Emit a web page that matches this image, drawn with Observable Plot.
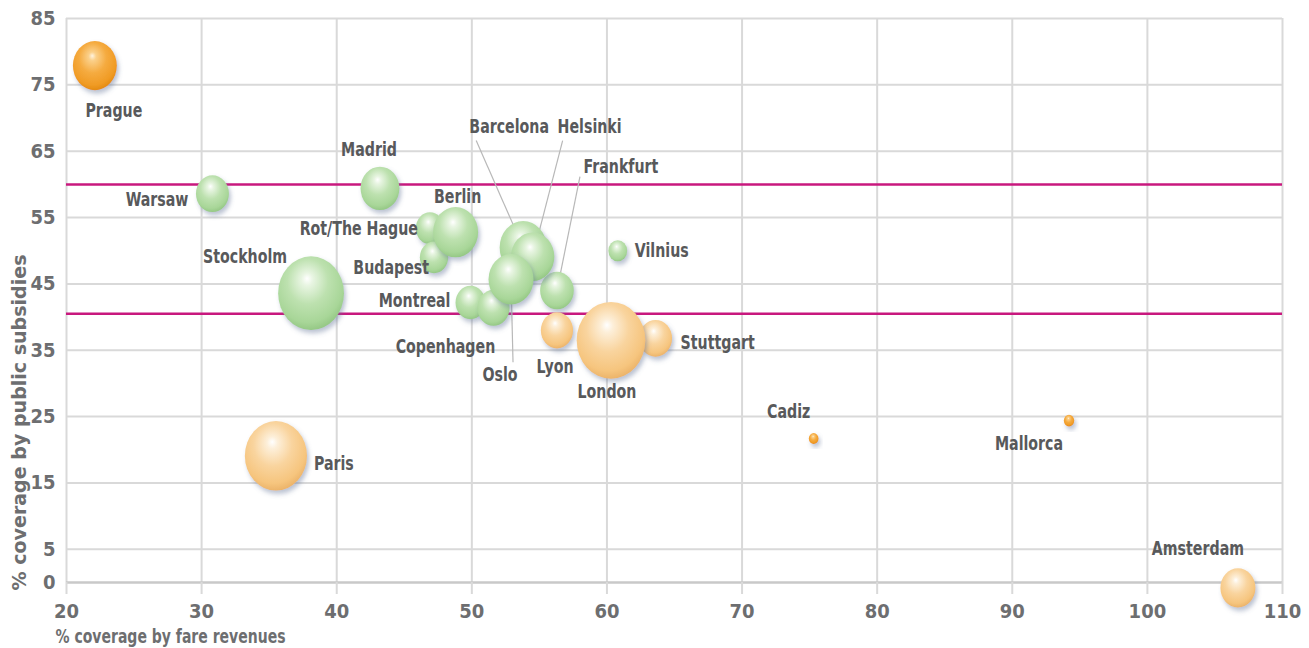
<!DOCTYPE html>
<html>
<head>
<meta charset="utf-8">
<script src="https://cdn.jsdelivr.net/npm/d3@7"></script>
<script src="https://cdn.jsdelivr.net/npm/@observablehq/plot@0.6"></script>
<style>
  html, body { margin: 0; padding: 0; background: #fff; }
  #chart svg { display: block; }
  #chart g[aria-label="dot"] circle { filter: url(#bubble-shadow); }
</style>
</head>
<body>
<!-- shared paint servers for the bubbles -->
<svg width="0" height="0" style="position:absolute">
  <defs>
    <radialGradient id="fill-green" cx="0.46" cy="0.38" r="0.62" fx="0.44" fy="0.3">
      <stop offset="0" stop-color="#ffffff"/>
      <stop offset="0.14" stop-color="#e8f5e2"/>
      <stop offset="0.5" stop-color="#bde1af"/>
      <stop offset="0.85" stop-color="#a8d698"/>
      <stop offset="1" stop-color="#95c885"/>
    </radialGradient>
    <radialGradient id="fill-pale" cx="0.46" cy="0.38" r="0.62" fx="0.44" fy="0.3">
      <stop offset="0" stop-color="#ffffff"/>
      <stop offset="0.14" stop-color="#fdefd9"/>
      <stop offset="0.5" stop-color="#f9d49e"/>
      <stop offset="0.85" stop-color="#f6c57e"/>
      <stop offset="1" stop-color="#ecb46a"/>
    </radialGradient>
    <radialGradient id="fill-orange" cx="0.46" cy="0.38" r="0.62" fx="0.44" fy="0.3">
      <stop offset="0" stop-color="#fff3df"/>
      <stop offset="0.14" stop-color="#fbd08a"/>
      <stop offset="0.5" stop-color="#f5ab40"/>
      <stop offset="0.85" stop-color="#f09b24"/>
      <stop offset="1" stop-color="#e48b12"/>
    </radialGradient>
    <filter id="bubble-shadow" x="-30%" y="-30%" width="170%" height="170%">
      <feDropShadow dx="2" dy="3" stdDeviation="2.2" flood-color="#66779a" flood-opacity="0.45"/>
    </filter>
  </defs>
</svg>
<div id="chart"></div>
<script>
// Public transport operators: share of operating cost covered by fares vs. by public subsidies
const cities = [
  "Prague", "Warsaw", "Madrid", "Stockholm", "Rot/The Hague", "Budapest", "Berlin",
  "Vilnius", "Frankfurt", "Barcelona", "Helsinki", "Montreal", "Copenhagen", "Oslo",
  "Lyon", "Stuttgart", "London", "Paris", "Cadiz", "Mallorca", "Amsterdam"
];
const fareCoverage = [
  22.1, 30.8, 43.2, 38.1, 46.9, 47.2, 48.8,
  60.8, 56.3, 53.8, 54.5, 49.9, 51.6, 52.9,
  56.3, 63.6, 60.3, 35.5, 75.3, 94.2, 106.7
];
const subsidyCoverage = [
  77.9, 58.6, 59.4, 43.6, 53.4, 49.0, 52.8,
  50.0, 44.0, 50.5, 49.1, 42.2, 41.4, 45.7,
  38.0, 36.8, 36.5, 19.1, 21.7, 24.4, -0.8
];
// relative network size (bubble area)
const networkSize = [
  41, 23, 32, 92, 17, 17, 43,
  7.5, 24, 47, 40, 19, 22, 43,
  22, 23, 100, 82, 2, 2.3, 26
];
const sizeGroup = [
  "III", "I", "I", "I", "I", "I", "I",
  "I", "I", "I", "I", "I", "I", "I",
  "II", "II", "II", "II", "III", "III", "II"
];
const xTicks = [20, 30, 40, 50, 60, 70, 80, 90, 100, 110];
const yTicks = [0, 5, 15, 25, 35, 45, 55, 65, 75, 85];
const bandLimits = [60, 40.5];
const xTitle = "% coverage by fare revenues";
const yTitle = "% coverage by public subsidies";

// label placement, pixel offsets from the bubble centre: [dx, dy, anchor]
const labelPlacement = {
  "Prague": [19, 45, "middle"],
  "Warsaw": [-24, 6, "end"],
  "Madrid": [-11, -38, "middle"],
  "Stockholm": [-66, -36, "middle"],
  "Rot/The Hague": [-12, 1, "end"],
  "Budapest": [-5, 11, "end"],
  "Berlin": [2, -35, "middle"],
  "Vilnius": [17, 0, "start"],
  "Frankfurt": [64, -124, "middle"],
  "Barcelona": [-14, -121, "middle"],
  "Helsinki": [57, -130, "middle"],
  "Montreal": [-20, -2, "end"],
  "Copenhagen": [-48, 39, "middle"],
  "Oslo": [-11, 96, "middle"],
  "Lyon": [-2, 37, "middle"],
  "Stuttgart": [25, 5, "start"],
  "London": [-4, 52, "middle"],
  "Paris": [38, 8, "start"],
  "Cadiz": [-25, -27, "middle"],
  "Mallorca": [-40, 23, "middle"],
  "Amsterdam": [-40, -39, "middle"]
};
// where the leader line leaves the label, pixel offsets from the bubble centre
const leaderStart = {
  "Frankfurt": [23, -114],
  "Barcelona": [-47, -107],
  "Helsinki": [30, -116],
  "Oslo": [2, 83]
};

const W = 1309, H = 648;
const M = {top: 18, right: 27, bottom: 66, left: 66};
const xDomain = [20, 110], yDomain = [0, 85];
const bubbleStretch = 1.12;   // bubbles are drawn slightly taller than wide
const labelCondense = 0.83;   // narrow the label face to a condensed width

const rows = cities.map((city, i) => ({
  city, fare: fareCoverage[i], subsidy: subsidyCoverage[i],
  size: networkSize[i], group: sizeGroup[i]
}));

const xs = Plot.scale({x: {domain: xDomain, range: [M.left, W - M.right]}});
const ys = Plot.scale({y: {domain: yDomain, range: [H - M.bottom, M.top]}});
const shift = (r, [dx, dy]) => ({
  x: xs.invert(xs.apply(r.fare) + dx),
  y: ys.invert(ys.apply(r.subsidy) + dy)
});

const labels = rows.map(r => {
  const p = labelPlacement[r.city];
  return {text: r.city, anchor: p[2], ...shift(r, p)};
});
const leaders = rows.filter(r => leaderStart[r.city]).map(r => {
  const s = shift(r, leaderStart[r.city]);
  return {x1: s.x, y1: s.y, x2: r.fare, y2: r.subsidy};
});

const font = '"Liberation Sans Narrow", "DejaVu Sans Condensed", "Arial Narrow", sans-serif';
const labelText = anchor => Plot.text(labels.filter(d => d.anchor === anchor), {
  x: "x", y: "y", text: "text", textAnchor: anchor, lineAnchor: "middle",
  fontSize: 19, fontWeight: "bold", fill: "#58595b"
});

const chart = Plot.plot({
  width: W, height: H,
  marginTop: M.top, marginRight: M.right, marginBottom: M.bottom, marginLeft: M.left,
  style: {fontFamily: font, fontWeight: "bold", background: "#fff", overflow: "visible"},
  x: {domain: xDomain},
  y: {domain: yDomain},
  r: {type: "sqrt", domain: [0, 100], range: [0, 34.3]},
  color: {type: "ordinal", domain: ["I", "II", "III"],
          range: ["url(#fill-green)", "url(#fill-pale)", "url(#fill-orange)"]},
  marks: [
    Plot.ruleX(xTicks, {stroke: "#d9d9d9", strokeWidth: 2}),
    Plot.ruleY(yTicks.filter(d => d !== 0), {stroke: "#d9d9d9", strokeWidth: 2}),
    Plot.ruleY([0], {stroke: "#c9c9c9", strokeWidth: 2.5}),
    Plot.axisX({ticks: xTicks, tickSize: 12, tickPadding: 9, label: null, fontSize: 20,
                fill: "#6d6e70", stroke: "#d9d9d9", strokeWidth: 2}),
    Plot.axisY({ticks: yTicks, tickSize: 0, tickPadding: 11, label: null, fontSize: 20,
                fill: "#6d6e70"}),
    Plot.ruleY(bandLimits, {stroke: "#c8187e", strokeWidth: 2.5}),
    Plot.link(leaders, {x1: "x1", y1: "y1", x2: "x2", y2: "y2", stroke: "#b8b8b8", strokeWidth: 1.2}),
    Plot.dot(rows, {x: "fare", y: "subsidy", r: "size", fill: "group", sort: null, clip: false}),
    labelText("start"), labelText("middle"), labelText("end"),
    Plot.text([xTitle], {frameAnchor: "bottom-left", text: d => d, textAnchor: "start",
                         lineAnchor: "middle", dx: -11, dy: 54, fontSize: 20, fill: "#6d6e70"}),
    Plot.text([yTitle], {frameAnchor: "bottom-left", text: d => d, textAnchor: "start",
                         lineAnchor: "middle", rotate: -90, dx: -47, dy: 8, fontSize: 20, fill: "#6d6e70"})
  ]
});
document.getElementById("chart").appendChild(chart);

// condensed lettering for the labels and titles
d3.select(chart).selectAll('g[aria-label="text"] text').each(function() {
  const t = this.textContent;
  const natural = this.getComputedTextLength();
  const target = t === xTitle ? 230 : t === yTitle ? 336 : natural * labelCondense;
  this.setAttribute("textLength", target);
  this.setAttribute("lengthAdjust", "spacingAndGlyphs");
});

// give the spheres their slightly tall shape, keeping each centre in place
d3.select(chart).selectAll('g[aria-label="dot"] circle').each(function() {
  const cx = +this.getAttribute("cx"), cy = +this.getAttribute("cy");
  this.setAttribute("transform",
    `translate(${cx},${cy}) scale(1,${bubbleStretch}) translate(${-cx},${-cy})`);
});
</script>
</body>
</html>
